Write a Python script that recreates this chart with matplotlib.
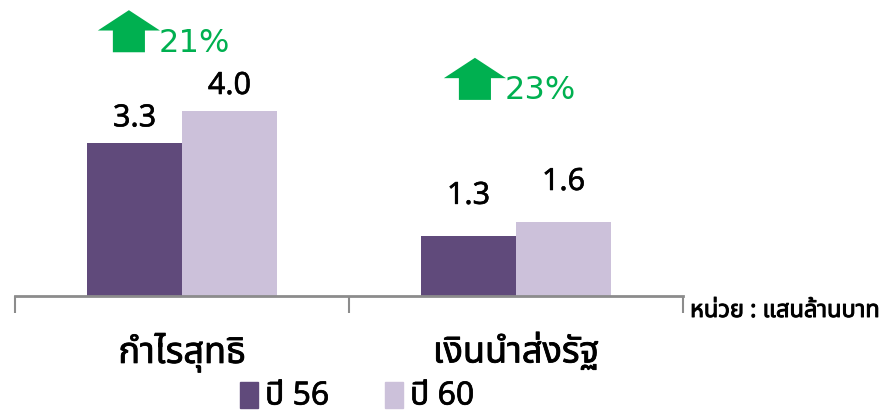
import matplotlib.pyplot as plt
import matplotlib.patheffects as pe
from matplotlib.patches import Polygon

categories = ['กำไรสุทธิ', 'เงินนำส่งรัฐ']
y56 = [3.3, 1.3]
y60 = [4.0, 1.6]
growth = ['21%', '23%']
legend_labels = ['ปี 56', 'ปี 60']
unit_text = 'หน่วย : แสนล้านบาท'

dark = '#604A7B'
light = '#CCC1DA'
green = '#00B050'
plt.rcParams['font.family'] = ['Noto Sans Thai', 'Noto Sans', 'DejaVu Sans']


def stroke(lw):
    return [pe.withStroke(linewidth=lw, foreground='black')]


fig = plt.figure(figsize=(8.88, 4.15), dpi=100)
ax = fig.add_axes([15 / 888, 119 / 415, 668 / 888, 296 / 415])

w = 95 / 334
x = list(range(len(categories)))
ax.bar([i - w / 2 for i in x], y56, w, color=dark)
ax.bar([i + w / 2 for i in x], y60, w, color=light)

# gap (px) between bar top and its label, per group
label_gap = [10, 25]
for i in x:
    for xx, v in [(i - w / 2, y56[i]), (i + w / 2, y60[i])]:
        ax.annotate(f'{v:.1f}', (xx, v), xytext=(0, label_gap[i]),
                    textcoords='offset pixels', ha='center', va='bottom',
                    fontsize=22, color='black', path_effects=stroke(0.4))

# green up arrows with growth %
arrow_tip = [6.18, 5.15]
arrow_x = [-0.159, 0.877]
for i, g in enumerate(growth):
    top, cx = arrow_tip[i], arrow_x[i]
    hw, sw, head, tall = 0.093, 0.048, 0.44, 0.91
    pts = [(cx, top), (cx + hw, top - head), (cx + sw, top - head),
           (cx + sw, top - tall), (cx - sw, top - tall), (cx - sw, top - head),
           (cx - hw, top - head)]
    ax.add_patch(Polygon(pts, closed=True, color=green, lw=0, clip_on=False))
    ax.text(cx + 0.088, top - tall + 0.2, g, ha='left', va='center',
            fontsize=23, color=green, family='DejaVu Sans')

ax.set_xlim(-0.5, 1.5)
ax.set_ylim(0, 6.4)
for s in ['top', 'right', 'left']:
    ax.spines[s].set_visible(False)
ax.spines['bottom'].set_color('#8C8C8C')
ax.spines['bottom'].set_linewidth(2)
ax.set_yticks([])
ax.set_xticks([-0.5, 0.5, 1.5])
ax.set_xticklabels([])
ax.tick_params(axis='x', length=12, width=1.5, color='#8C8C8C')

for i, c in enumerate(categories):
    ax.text(i, -1.22, c, ha='center', va='center', fontsize=26,
            path_effects=stroke(0.6))

fig.text(690 / 888, 1 - 311 / 415, unit_text, ha='left', va='center',
         fontsize=17, path_effects=stroke(0.7))

# legend
for j, (lab, col) in enumerate(zip(legend_labels, [dark, light])):
    x0 = (240 + 145 * j) / 888
    fig.patches.append(plt.Rectangle((x0, 1 - 408 / 415), 18 / 888, 26 / 415,
                                     color=col, transform=fig.transFigure))
    fig.text(x0 + 25 / 888, 1 - 396 / 415, lab, ha='left', va='center',
             fontsize=23, path_effects=stroke(0.5))

fig.savefig('out.png', dpi=100)
